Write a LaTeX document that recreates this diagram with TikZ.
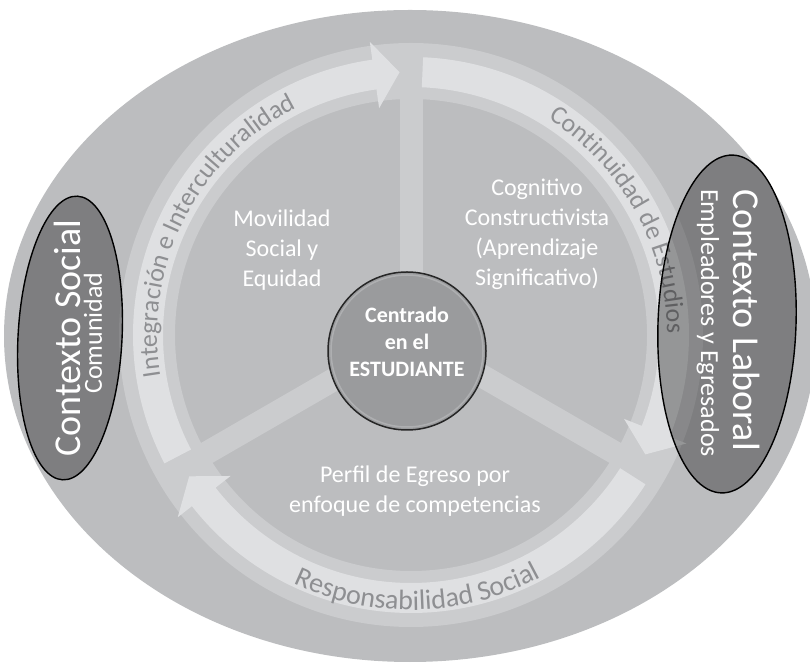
\documentclass[tikz,border=0pt]{standalone}
\usepackage{fontspec}
\setmainfont{Carlito}
\usetikzlibrary{calc,decorations.text}
\definecolor{bgc}{HTML}{BCBDBF}
\definecolor{bandc}{HTML}{CBCCCE}
\definecolor{arrc}{HTML}{DFE0E2}
\definecolor{arctext}{HTML}{8E8F92}
\definecolor{circc}{HTML}{9A9B9D}
\definecolor{circin}{HTML}{AEAFB1}
\definecolor{edgec}{HTML}{262626}
\newcommand\arcfont{\fontsize{26}{26}\selectfont\color{arctext}}
\newcommand\arcfontb{\fontsize{28}{28}\selectfont\color{arctext}}
\newcommand\ringarrow[3]{%
  \fill[arrc] ($(C)+(#1:278pt)$) arc[start angle=#1, end angle=#2, radius=278pt]
    -- ($(C)+(#2:296pt)$) -- ($(C)+(#3:263pt)$) -- ($(C)+(#2:229pt)$)
    -- ($(C)+(#2:248pt)$) arc[start angle=#2, end angle=#1, radius=248pt] -- cycle;}
\begin{document}
\begin{tikzpicture}[x=1pt,y=1pt,
  spoke/.style={draw=bandc, line width=23pt},
  bodytext/.style={text=white, align=center, font=\fontsize{24}{30}\selectfont},
  ctx/.style={fill=black, fill opacity=0.33, draw=black, line width=1.4pt},
  ctxbig/.style={text=white, font=\fontsize{38}{38}\selectfont, inner sep=0pt},
  ctxsmall/.style={text=white, font=\fontsize{26}{26}\selectfont, inner sep=0pt},
  arctxt/.style={decorate, decoration={text along path, text align=center, text={|\arcfont|#1}}},
  arctxtb/.style={decorate, decoration={text along path, text align=center, text={|\arcfontb|#1}}}
]
\clip (0,0) rectangle (810,663);
\coordinate (C) at (411,328);
% background ellipse
\fill[bgc] (410,327) ellipse[x radius=406pt, y radius=326pt];
% ring band
\fill[bandc, even odd rule] (C) circle[radius=292pt] (C) circle[radius=236pt];
% spokes
\draw[spoke] (C) -- ($(C)+(90:285pt)$);
\draw[spoke] (C) -- ($(C)+(210:285pt)$);
\draw[spoke] (C) -- ($(C)+(330:285pt)$);
% arrows
\ringarrow{207.5}{98}{92.5}
\ringarrow{87.5}{-21.5}{-27}
\ringarrow{327.5}{218}{212.5}
% arc texts
\path[arctxt={Integración e Interculturalidad}] ($(C)+(200:254pt)$) arc[start angle=200, end angle=106, radius=254pt];
\path[arctxt={Continuidad de Estudios}] ($(C)+(75:256pt)$) arc[start angle=75, end angle=-17, radius=256pt];
\path[arctxtb={Responsabilidad Social}] ($(C)+(225:275pt)$) arc[start angle=225, end angle=318, radius=275pt];
% center circle
\node[circle, fill=circc, draw=edgec, line width=1.5pt, minimum size=158pt, inner sep=0pt] (centro) at (407,312) {};
\draw[circin, line width=1.5pt] (centro.center) circle[radius=76pt];
\node[align=center, text=white, font=\bfseries\fontsize{22}{27}\selectfont] (ctext) at (407,321) {Centrado\\en el\\ESTUDIANTE};
% body texts
\node[bodytext] (movil) at (282,413) {Movilidad\\Social y\\Equidad};
\node[bodytext] (cogn) at (537,429) {Cognitivo\\Constructivista\\(Aprendizaje\\Significativo)};
\node[bodytext] (perfil) at (415,172) {Perfil de Egreso por\\enfoque de competencias};
% context ellipses
\filldraw[ctx, rotate around={-3:(70,325)}] (70,325) ellipse[x radius=52pt, y radius=142pt];
\filldraw[ctx, rotate around={-2:(727,339)}] (727,339) ellipse[x radius=69pt, y radius=169pt];
\node[ctxbig, rotate=90] (csocial) at (67,325) {Contexto Social};
\node[ctxsmall, rotate=90] (comun) at (93,330) {Comunidad};
\node[ctxbig, rotate=-90] (clab) at (747,343) {Contexto Laboral};
\node[ctxsmall, rotate=-90] (emple) at (708,340) {Empleadores y Egresados};
\end{tikzpicture}
\end{document}
